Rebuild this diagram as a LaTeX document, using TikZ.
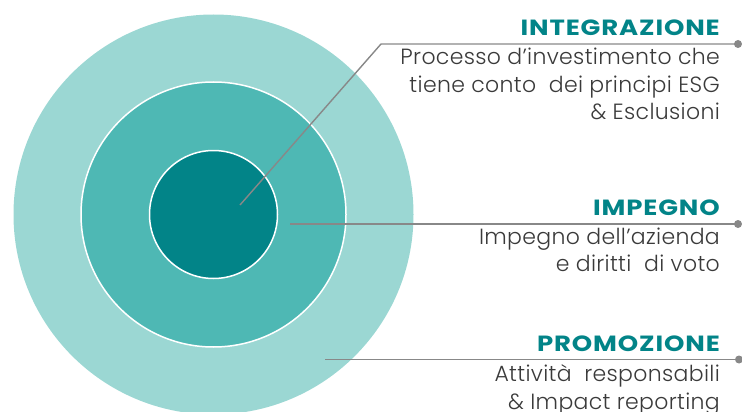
\documentclass[tikz,border=0pt]{standalone}
\usepackage{fontspec}
\setmainfont{Poppins}
\newfontfamily\lightfont[LetterSpace=1.5]{Poppins Light}
\newfontfamily\headfont[LetterSpace=4, FakeStretch=1.18]{Poppins}
\definecolor{ringout}{HTML}{9BD7D3}
\definecolor{ringmid}{HTML}{4EB8B4}
\definecolor{ringin}{HTML}{028488}
\definecolor{leadgray}{HTML}{888888}
\definecolor{bodytext}{HTML}{3A3A3A}
\begin{document}
\begin{tikzpicture}[x=1pt, y=-1pt,
    ring/.style={draw=white, line width=1.5pt},
    leader/.style={draw=leadgray, line width=1.4pt},
    enddot/.style={fill=leadgray},
    title/.style={anchor=base east, inner sep=0pt, text=ringin, font=\headfont\fontsize{22}{24}\selectfont\bfseries},
    desc/.style={anchor=base east, inner sep=0pt, text=bodytext, font=\lightfont\fontsize{22}{24}\selectfont}]
    \useasboundingbox (0,0) rectangle (742,412);
    % the three rings
    \begin{scope}
      \clip (0,0) rectangle (742,412);
      \fill[ringout] (213.5,214.5) circle (200);
      \filldraw[ring, fill=ringmid] (213.5,214.5) circle (132.5);
      \filldraw[ring, fill=ringin] (213.5,214.5) circle (64);
    \end{scope}
    % leader ends
    \coordinate (int-start) at (240,205);
    \coordinate (int-bend) at (381,44);
    \coordinate (int-end) at (738,44);
    \coordinate (imp-start) at (290,224);
    \coordinate (imp-end) at (738,224);
    \coordinate (pro-start) at (325,359.5);
    \coordinate (pro-end) at (739,359.5);
    \draw[leader] (int-start) -- (int-bend) -- (int-end);
    \draw[leader] (imp-start) -- (imp-end);
    \draw[leader] (pro-start) -- (pro-end);
    \foreach \p in {int,imp,pro}
      \fill[enddot] (\p-end) circle (4);
    % titles
    \node[title] (int-title) at (720,36) {INTEGRAZIONE};
    \node[title] (imp-title) at (720,215) {IMPEGNO};
    \node[title] (pro-title) at (720,351.5) {PROMOZIONE};
    % descriptions
    \foreach \l [count=\i] in {Processo\ d’investimento\ che, tiene conto\ \ dei principi ESG, \& Esclusioni}
      \node[desc] (int-line-\i) at (720,37.5+27.5*\i) {\l};
    \foreach \l [count=\i] in {Impegno dell’azienda, e diritti\ \ di voto}
      \node[desc] (imp-line-\i) at (720,217+27*\i) {\l};
    \foreach \l [count=\i] in {Attività\ \ responsabili, \& Impact\ reporting}
      \node[desc] (pro-line-\i) at (720,354.5+27.3*\i) {\l};
\end{tikzpicture}
\end{document}
